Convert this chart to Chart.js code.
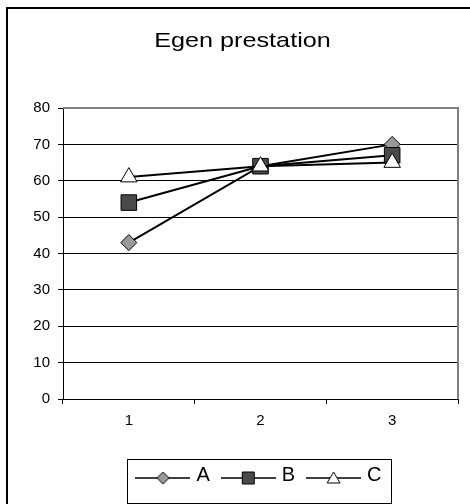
<!DOCTYPE html>
<html>
<head>
<meta charset="utf-8">
<title>Egen prestation</title>
<script src="https://cdn.jsdelivr.net/npm/chart.js@4/dist/chart.umd.min.js"></script>
<style>
  html, body { margin: 0; padding: 0; background: #ffffff; }
  canvas { display: block; }
</style>
</head>
<body>
<canvas id="chart" width="470" height="504"></canvas>
<script>
// ---- data ----
const categories = ['1', '2', '3'];
const seriesNames = ['A', 'B', 'C'];
const valuesA = [43, 64, 70];
const valuesB = [54, 64, 67];
const valuesC = [61, 64, 65];
const yMin = 0;
const yMax = 80;
const yStep = 10;
const chartTitle = 'Egen prestation';

const FONT = "'Liberation Sans', Arial, Helvetica, sans-serif";
const seriesValues = [valuesA, valuesB, valuesC];

// marker look for each series (plot marker + legend swatch)
const markers = [
  { style: 'rectRot', radius: 8, fill: '#999999' },
  { style: 'rect', radius: 11, fill: '#4a4a4a' },
  { style: 'triangle', radius: 9.5, fill: '#ffffff' }
];

// legend swatch: short line with the series marker on it
function legendSwatch(kind, fill) {
  const cv = document.createElement('canvas');
  cv.width = 55;
  cv.height = 24;
  const g = cv.getContext('2d');
  const cx = 27.5, cy = 15;
  g.strokeStyle = '#000';
  g.lineWidth = 1.5;
  g.beginPath();
  g.moveTo(0, cy);
  g.lineTo(55, cy);
  g.stroke();
  g.fillStyle = fill;
  g.lineWidth = 1;
  g.beginPath();
  if (kind === 'rectRot') {
    g.moveTo(cx, cy - 6); g.lineTo(cx + 6, cy); g.lineTo(cx, cy + 6); g.lineTo(cx - 6, cy); g.closePath();
  } else if (kind === 'rect') {
    g.rect(cx - 6, cy - 6, 12, 12);
  } else {
    g.moveTo(cx, cy - 6); g.lineTo(cx + 6.5, cy + 5); g.lineTo(cx - 6.5, cy + 5); g.closePath();
  }
  g.fill();
  g.stroke();
  return cv;
}
const swatches = markers.map(m => legendSwatch(m.style, m.fill));

// frame, plot border, legend box; title drawn slightly wide
const framePlugin = {
  id: 'frame',
  afterInit(chart) {
    const tb = chart.titleBlock;
    if (tb && !tb._wide) {
      const draw = tb.draw.bind(tb);
      tb.draw = function () {
        const ctx = chart.ctx;
        const cx = (tb.left + tb.right) / 2;
        ctx.save();
        ctx.translate(cx, 0);
        ctx.scale(1.2, 1);
        ctx.translate(-cx, 0);
        draw();
        ctx.restore();
      };
      tb._wide = true;
    }
  },
  afterLayout(chart) {
    // center the legend under the plot area
    const lg = chart.legend;
    const a = chart.chartArea;
    if (lg) {
      lg.left = a.left;
      lg.right = a.right;
      lg.width = a.right - a.left;
    }
  },
  beforeDatasetsDraw(chart) {
    const ctx = chart.ctx;
    const a = chart.chartArea;
    ctx.save();
    ctx.strokeStyle = '#808080';
    ctx.lineWidth = 2;
    ctx.beginPath();
    ctx.moveTo(a.left, a.top);
    ctx.lineTo(a.right, a.top);
    ctx.lineTo(a.right, a.bottom);
    ctx.stroke();
    ctx.restore();
  },
  afterDraw(chart) {
    const ctx = chart.ctx;
    ctx.save();
    ctx.fillStyle = '#000';
    ctx.fillRect(6, 7, 464, 2);
    ctx.fillRect(6, 7, 2, 497);
    const lg = chart.legend;
    if (lg && lg.legendHitBoxes && lg.legendHitBoxes.length) {
      const hb = lg.legendHitBoxes;
      const l = Math.min(...hb.map(h => h.left)) - 12;
      const r = Math.max(...hb.map(h => h.left + h.width)) + 10;
      const t = lg.top + 9;
      const b = lg.top + 53;
      ctx.strokeStyle = '#000';
      ctx.lineWidth = 1;
      ctx.strokeRect(Math.round(l) + 0.5, Math.round(t) + 0.5, Math.round(r - l), Math.round(b - t));
    }
    ctx.restore();
  }
};

new Chart(document.getElementById('chart'), {
  type: 'line',
  data: {
    labels: categories,
    datasets: seriesNames.map((name, i) => ({
      label: name,
      data: seriesValues[i],
      borderColor: '#000',
      borderWidth: 2,
      backgroundColor: markers[i].fill,
      pointStyle: markers[i].style,
      pointRadius: markers[i].radius,
      pointHoverRadius: markers[i].radius,
      pointBackgroundColor: markers[i].fill,
      pointBorderColor: '#000',
      pointBorderWidth: 1,
      tension: 0,
      order: seriesNames.length - i,
      clip: false
    }))
  },
  options: {
    responsive: false,
    animation: false,
    devicePixelRatio: 1,
    layout: { padding: { top: 0, left: 26, right: 11, bottom: 9 } },
    plugins: {
      title: {
        display: true,
        text: chartTitle,
        color: '#000',
        font: { family: FONT, size: 21, weight: 'normal', lineHeight: 1.2 },
        padding: { top: 29, bottom: 53.8 }
      },
      legend: {
        display: true,
        position: 'bottom',
        labels: {
          usePointStyle: true,
          pointStyleWidth: 47,
          padding: 15,
          color: '#000',
          font: { family: FONT, size: 20 },
          generateLabels: () => seriesNames.map((name, i) => ({
            text: name,
            pointStyle: swatches[i],
            datasetIndex: i,
            fillStyle: markers[i].fill,
            strokeStyle: '#000',
            lineWidth: 1,
            hidden: false,
            fontColor: '#000'
          }))
        }
      },
      tooltip: { enabled: false }
    },
    scales: {
      x: {
        type: 'category',
        offset: true,
        grid: { offset: true, drawOnChartArea: false, color: '#000', tickColor: '#000', tickLength: 5, lineWidth: 1 },
        border: { color: '#000', width: 1 },
        ticks: { color: '#000', font: { family: FONT, size: 15 }, padding: 8, maxRotation: 0 },
        afterFit(scale) { scale.height = 51; }
      },
      y: {
        min: yMin,
        max: yMax,
        grid: {
          color: (c) => (c.tick && c.tick.value === yMax ? 'rgba(0,0,0,0)' : '#000'),
          tickColor: '#000',
          tickLength: 5,
          lineWidth: 1
        },
        border: { color: '#000', width: 1 },
        ticks: { stepSize: yStep, color: '#000', font: { family: FONT, size: 15 }, padding: 8 },
        afterFit(scale) { scale.width = 37; }
      }
    }
  },
  plugins: [framePlugin]
});
</script>
</body>
</html>
